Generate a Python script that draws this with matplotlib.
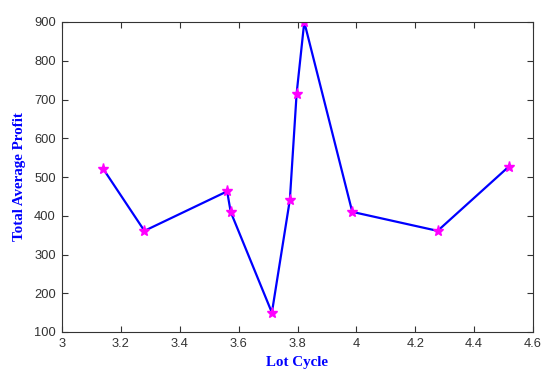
import matplotlib
matplotlib.use("Agg")
import matplotlib.pyplot as plt

lot_cycle = [3.14, 3.28, 3.561, 3.573, 3.713, 3.774, 3.797, 3.823, 3.986, 4.276, 4.518]
avg_profit = [521, 361, 463, 410, 150, 441, 715, 900, 410, 361, 527]
x_ticks = [3, 3.2, 3.4, 3.6, 3.8, 4, 4.2, 4.4, 4.6]
x_tick_labels = ["3", "3.2", "3.4", "3.6", "3.8", "4", "4.2", "4.4", "4.6"]
y_ticks = [100, 200, 300, 400, 500, 600, 700, 800, 900]

fig = plt.figure(figsize=(5.5, 3.78), dpi=100)
ax = fig.add_axes([62/550, 46/378, 471/550, 310/378])
ax.plot(lot_cycle, avg_profit, color="#0000ff", linewidth=1.6,
        marker="*", markersize=8, markerfacecolor="#ff00ff", markeredgecolor="#ff00ff")
ax.set_xlim(3, 4.6)
ax.set_ylim(100, 900)
ax.set_xticks(x_ticks)
ax.set_xticklabels(x_tick_labels)
ax.set_yticks(y_ticks)
ax.tick_params(direction="in", top=True, right=True, length=4, width=0.8,
               labelsize=9.3, colors="#333333", pad=4.5)
for lab in ax.get_xticklabels() + ax.get_yticklabels():
    lab.set_family("Liberation Sans")
for s in ax.spines.values():
    s.set_color("#333333")
    s.set_linewidth(0.8)
ax.set_xlabel("Lot Cycle", family="Liberation Serif", fontweight="bold",
              color="#0000ff", fontsize=10.8, labelpad=4)
ax.set_ylabel("Total Average Profit", family="Liberation Serif", fontweight="bold",
              color="#0000ff", fontsize=10.8, labelpad=6)
fig.savefig("out.png", dpi=100)
